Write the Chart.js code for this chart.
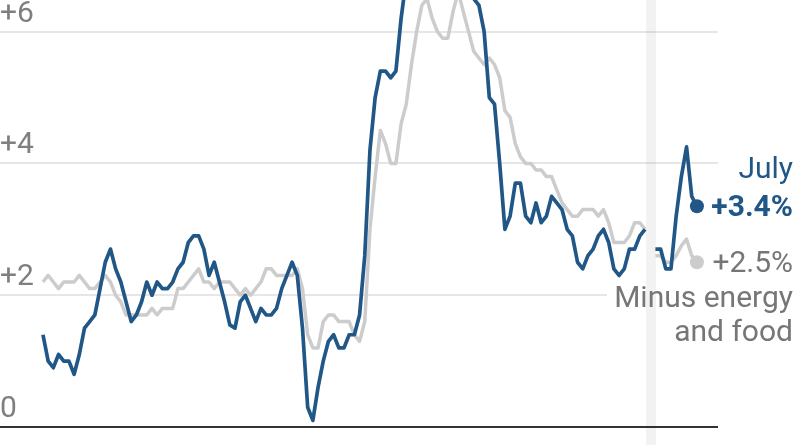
<!DOCTYPE html>
<html>
<head>
<meta charset="utf-8">
<script src="https://cdn.jsdelivr.net/npm/chart.js@4.4.1/dist/chart.umd.min.js"></script>
<style>
  html, body { margin: 0; padding: 0; background: #fff; }
  #wrap { width: 800px; height: 445px; position: relative; }
</style>
</head>
<body>
<div id="wrap"><canvas id="cpi"></canvas></div>
<script>
// monthly, Jan 2016 .. Jul 2026 (Oct 2025 missing)
const startYear = 2016;

const allItems = [
  1.4, 1.0, 0.9, 1.1, 1.0, 1.0, 0.8, 1.1, 1.5, 1.6, 1.7, 2.1,
  2.5, 2.7, 2.4, 2.2, 1.9, 1.6, 1.7, 1.9, 2.2, 2.0, 2.2, 2.1,
  2.1, 2.2, 2.4, 2.5, 2.8, 2.9, 2.9, 2.7, 2.3, 2.5, 2.2, 1.9,
  1.55, 1.5, 1.9, 2.0, 1.8, 1.6, 1.8, 1.7, 1.7, 1.8, 2.1, 2.3,
  2.5, 2.3, 1.5, 0.3, 0.1, 0.6, 1.0, 1.3, 1.4, 1.2, 1.2, 1.4,
  1.4, 1.7, 2.6, 4.2, 5.0, 5.4, 5.4, 5.3, 5.4, 6.2, 6.8, 7.0,
  7.5, 7.9, 8.5, 8.3, 8.6, 9.1, 8.5, 8.3, 8.2, 7.7, 7.1, 6.5,
  6.4, 6.0, 5.0, 4.9, 4.0, 3.0, 3.2, 3.7, 3.7, 3.2, 3.1, 3.4,
  3.1, 3.2, 3.5, 3.4, 3.3, 3.0, 2.9, 2.5, 2.4, 2.6, 2.7, 2.9,
  3.0, 2.8, 2.4, 2.3, 2.4, 2.7, 2.7, 2.9, 3.0, null, 2.7, 2.7,
  2.4, 2.4, 3.2, 3.8, 4.25, 3.5, 3.35
];

const minusEnergyFood = [
  2.2, 2.3, 2.2, 2.1, 2.2, 2.2, 2.2, 2.3, 2.2, 2.1, 2.1, 2.2,
  2.3, 2.2, 2.0, 1.9, 1.7, 1.7, 1.7, 1.7, 1.7, 1.8, 1.7, 1.8,
  1.8, 1.8, 2.1, 2.1, 2.2, 2.3, 2.4, 2.2, 2.2, 2.1, 2.2, 2.2,
  2.2, 2.1, 2.0, 2.1, 2.0, 2.1, 2.2, 2.4, 2.4, 2.3, 2.3, 2.3,
  2.3, 2.4, 2.1, 1.4, 1.2, 1.2, 1.6, 1.7, 1.7, 1.6, 1.6, 1.6,
  1.4, 1.3, 1.6, 3.0, 3.8, 4.5, 4.3, 4.0, 4.0, 4.6, 4.9, 5.5,
  6.0, 6.4, 6.5, 6.2, 6.0, 5.9, 5.9, 6.3, 6.6, 6.3, 6.0, 5.7,
  5.6, 5.5, 5.6, 5.5, 5.3, 4.8, 4.7, 4.3, 4.1, 4.0, 4.0, 3.9,
  3.9, 3.8, 3.8, 3.6, 3.4, 3.3, 3.2, 3.2, 3.3, 3.3, 3.3, 3.2,
  3.3, 3.1, 2.8, 2.8, 2.8, 2.9, 3.1, 3.1, 3.0, null, 2.6, 2.6,
  2.5, 2.5, 2.6, 2.75, 2.85, 2.6, 2.5
];

const yTicks = [0, 2, 4, 6];
const yTickLabels = ["0", "+2", "+4", "+6"];
const missingMonth = "2025-10";

const months = allItems.map((_, i) => {
  const y = startYear + Math.floor(i / 12);
  return y + "-" + String(i % 12 + 1).padStart(2, "0");
});

const BLUE = "#215787";
const GRAY_LINE = "#cccccc";
const GRAY_TEXT = "#767676";
const FONT = "Roboto, 'Noto Sans', sans-serif";

const lastIdx = allItems.length - 1;
const toPoints = arr => arr.map((v, i) => ({ x: i, y: v }));

// shaded column for the month with no data, plus label backing
const bandPlugin = {
  id: "band",
  beforeDatasetsDraw(chart) {
    const { ctx, scales: { x } } = chart;
    const gap = months.indexOf(missingMonth);
    ctx.save();
    ctx.fillStyle = "#fff";
    ctx.fillRect(607, 282, 193, 70);
    const x0 = x.getPixelForValue(gap - 0.8);
    const x1 = x.getPixelForValue(gap + 1.1);
    ctx.fillStyle = "rgba(0,0,0,0.05)";
    ctx.fillRect(x0, 0, x1 - x0, chart.height);
    ctx.restore();
  }
};

const labelPlugin = {
  id: "labels",
  afterDatasetsDraw(chart) {
    const { ctx, scales: { x, y } } = chart;
    ctx.save();
    ctx.textBaseline = "alphabetic";

    ctx.font = "30px " + FONT;
    ctx.fillStyle = "#7f7f7f";
    ctx.textAlign = "left";
    yTicks.forEach((v, i) => {
      ctx.fillText(yTickLabels[i], 0, y.getPixelForValue(v) - 10);
    });

    const right = 793;
    const by = y.getPixelForValue(allItems[lastIdx]);
    const gy = y.getPixelForValue(minusEnergyFood[lastIdx]);
    ctx.textAlign = "right";

    ctx.fillStyle = BLUE;
    ctx.font = "30px " + FONT;
    ctx.fillText("July", right, by - 28);
    ctx.font = "bold 30px " + FONT;
    ctx.fillText("+" + allItems[lastIdx].toFixed(1) + "%", right, by + 10);

    ctx.fillStyle = GRAY_TEXT;
    ctx.font = "30px " + FONT;
    ctx.fillText("+" + minusEnergyFood[lastIdx].toFixed(1) + "%", right, gy + 10);
    ctx.fillText("Minus energy", right, gy + 45);
    ctx.fillText("and food", right, gy + 79);
    ctx.restore();
  }
};

const endDot = ctx => ctx.dataIndex === lastIdx ? 7 : 0;

new Chart(document.getElementById("cpi"), {
  type: "line",
  data: {
    labels: months,
    datasets: [
      {
        label: "All items",
        data: toPoints(allItems),
        borderColor: BLUE,
        backgroundColor: BLUE,
        borderWidth: 3.7,
        borderJoinStyle: "round",
        pointRadius: endDot,
        pointBorderWidth: 0,
        pointBackgroundColor: BLUE,
        tension: 0,
        spanGaps: false
      },
      {
        label: "Minus energy and food",
        data: toPoints(minusEnergyFood),
        borderColor: GRAY_LINE,
        backgroundColor: GRAY_LINE,
        borderWidth: 3.5,
        borderJoinStyle: "round",
        pointRadius: endDot,
        pointBorderWidth: 0,
        pointBackgroundColor: GRAY_LINE,
        tension: 0,
        spanGaps: false
      }
    ]
  },
  options: {
    responsive: true,
    maintainAspectRatio: false,
    animation: false,
    layout: { autoPadding: false, padding: { left: 0, right: 82, top: 0, bottom: 18 } },
    plugins: { legend: { display: false }, tooltip: { enabled: false } },
    scales: {
      x: {
        type: "linear",
        display: false,
        min: -8.28,
        max: 130.06
      },
      y: {
        min: 0,
        max: 6.48,
        afterBuildTicks: s => { s.ticks = yTicks.map(v => ({ value: v })); },
        afterFit: s => { s.width = 0; },
        ticks: { display: false },
        border: { display: false },
        grid: {
          drawTicks: false,
          color: c => c.tick.value === 0 ? "#333" : "#e6e6e6",
          lineWidth: 2
        }
      }
    }
  },
  plugins: [bandPlugin, labelPlugin]
});
</script>
</body>
</html>
